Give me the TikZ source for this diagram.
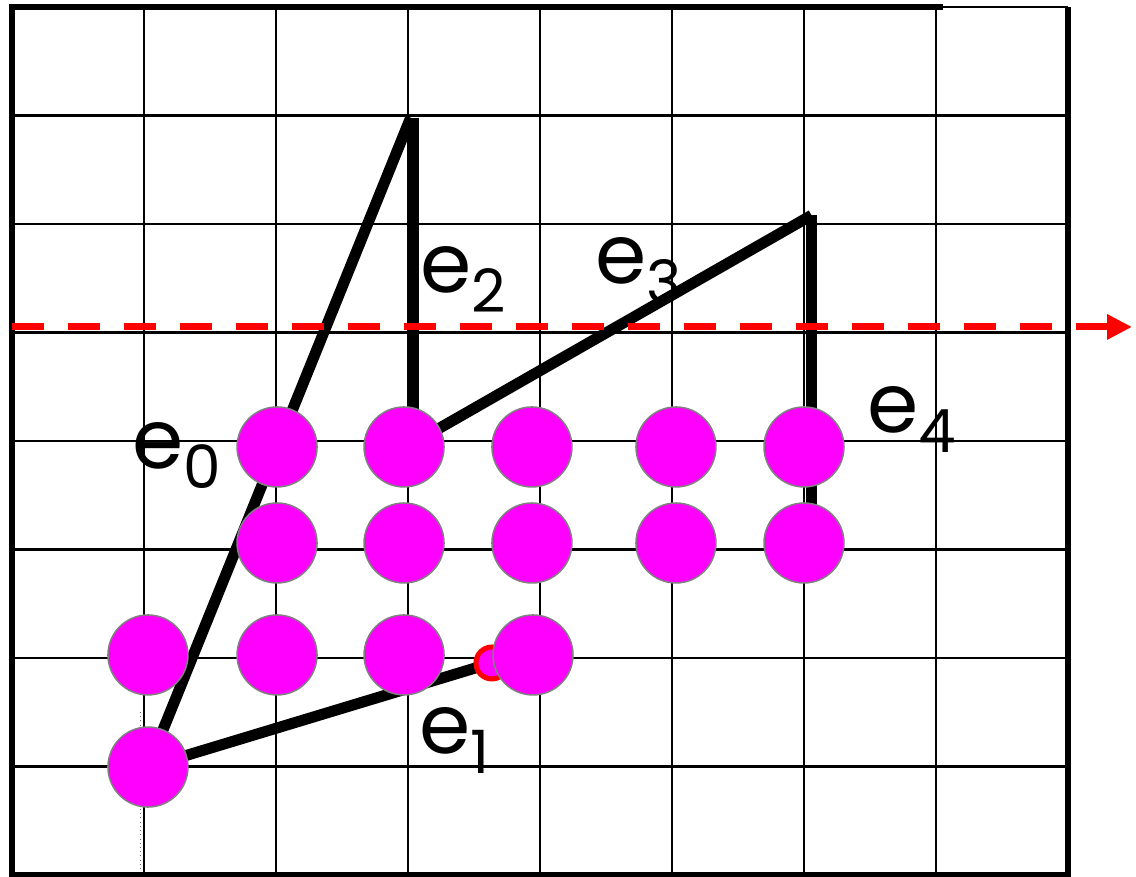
\documentclass[tikz,border=0pt]{standalone}
\usepackage{fontspec}
\setmainfont{Poppins}
\usetikzlibrary{arrows.meta}
\definecolor{pixelfill}{RGB}{255,0,255}
\definecolor{scanred}{RGB}{255,0,0}
\definecolor{rimgray}{RGB}{128,128,128}

\begin{document}
\begin{tikzpicture}[
    x=2.64cm, y=2.17cm,
    gridline/.style={draw, black, line width=0.045cm},
    frame/.style={draw, black, line width=0.12cm},
    edgeline/.style={draw, black, line width=0.22cm},
    scanline/.style={draw, scanred, line width=0.14cm, dash pattern=on 0.64cm off 0.48cm},
    pixel/.style={fill=pixelfill, draw=rimgray, line width=0.03cm},
    elabel/.style={anchor=base west, inner sep=0pt, font=\fontsize{47}{47}\selectfont},
  ]
  \useasboundingbox (-0.0909,-0.0184) rectangle (8.5152,8.0645);

  % ---- raster ----
  \foreach \i in {1,...,7} {
    \draw[gridline] (\i,0) -- (\i,8);
    \draw[gridline] (0,\i) -- (8,\i);
  }
  \draw[gridline] (0,8) -- (8,8);
  \draw[frame] (7.053,8) -- (0,8) -- (0,0) -- (8,0) -- (8,8);
  \draw[black!60, thin, dotted] (0.970,1.502) -- (0.970,0.028);

  % ---- polygon edges ----
  \draw[edgeline] (1.03,0.995) -- (3.02,6.98);
  \draw[edgeline] (3.04,6.98) -- (3.04,3.95);
  \draw[edgeline] (3.04,3.98) -- (6.057,6.08);
  \draw[edgeline] (6.057,6.08) -- (6.057,3.06);
  \draw[edgeline] (1.03,0.995) -- (3.636,1.954);

  % ---- scan line ----
  \draw[scanline, -{Triangle[length=0.5cm, width=0.48cm]}] (0,5.051) -- (8.485,5.051);

  % ---- pixels inside ----
  \foreach \x/\y in {1.030/0.995, 1.030/2.028, 2.008/2.028, 2.970/2.028,
                     2.008/3.060, 2.970/3.060, 3.939/3.060, 5.030/3.060, 6.000/3.060,
                     2.008/3.945, 2.970/3.945, 3.939/3.945, 5.030/3.945, 6.000/3.945}
    \draw[pixel] (\x,\y) circle (0.8cm);
  \draw[fill=pixelfill, draw=scanred, line width=0.1cm] (3.636,1.954) circle (0.32cm);
  \draw[pixel] (3.947,2.028) circle (0.8cm);

  % ---- edge names ----
  \node[elabel] (lab0) at (0.909,3.751) {e\raisebox{-0.4cm}{\fontsize{34}{34}\selectfont 0}};
  \node[elabel] (lab1) at (3.083,1.124) {e\raisebox{-0.4cm}{\fontsize{34}{34}\selectfont 1}};
  \node[elabel] (lab2) at (3.091,5.373) {e\raisebox{-0.4cm}{\fontsize{34}{34}\selectfont 2}};
  \node[elabel] (lab3) at (4.417,5.456) {e\raisebox{-0.4cm}{\fontsize{34}{34}\selectfont 3}};
  \node[elabel] (lab4) at (6.477,4.074) {e\raisebox{-0.4cm}{\fontsize{34}{34}\selectfont 4}};
\end{tikzpicture}
\end{document}
